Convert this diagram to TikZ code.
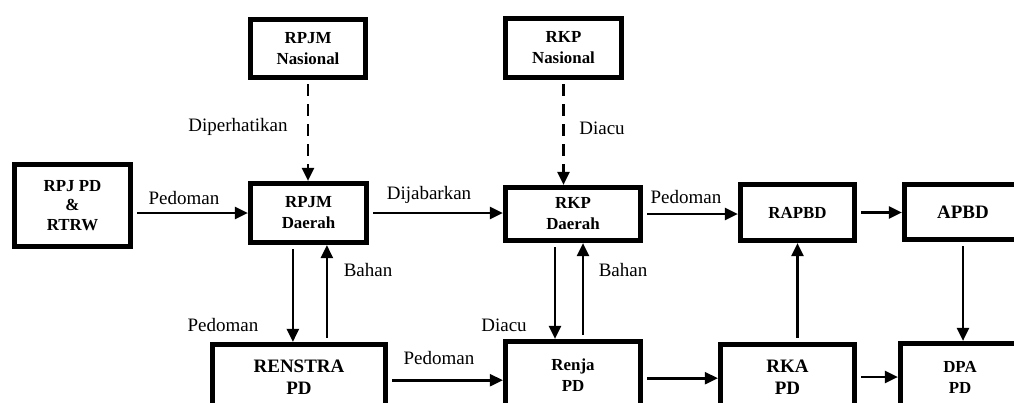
\documentclass[tikz,border=0pt]{standalone}
\usepackage{fontspec}
\setmainfont{Liberation Serif}
\usetikzlibrary{arrows.meta}
\tikzset{box/.style = {draw, line width=3.6pt, align=center, inner sep=0pt,
                       font=\bfseries\fontsize{12}{15}\selectfont},
         big/.style = {font=\bfseries\fontsize{13.5}{16}\selectfont},
         arr/.style = {line width=1.9pt, -{Triangle[length=0.33cm,width=0.3cm]}, shorten <=0.1cm},
         dsh/.style = {dash pattern=on 0.3cm off 0.2cm},
         lbl/.style = {font=\fontsize{13.5}{16}\selectfont, inner sep=0pt}}

\begin{document}
\begin{tikzpicture}[x=0.025cm, y=-0.025cm]
  \useasboundingbox (0,0) rectangle (1014,402);
  \clip (0,0) rectangle (1014,402);
  \node[box, minimum width=2.875cm, minimum height=1.45cm] (rpjmn) at (308,48.5) {RPJM\\Nasional};
  \node[box, minimum width=2.9cm, minimum height=1.475cm] (rkpn) at (563.5,48) {RKP\\Nasional};
  \node[box, minimum width=2.9cm, minimum height=2.05cm, font=\bfseries\fontsize{12}{14}\selectfont] (rpjpd) at (72.5,205.5) {RPJ PD\\\&\\RTRW};
  \node[box, minimum width=2.9cm, minimum height=1.475cm] (rpjmd) at (308.5,213) {RPJM\\Daerah};
  \node[box, minimum width=3.375cm, minimum height=1.325cm] (rkpd) at (573,214) {RKP\\Daerah};
  \node[box, minimum width=2.85cm, minimum height=1.4cm] (rapbd) at (797.5,212.5) {RAPBD};
  \node[box, big, minimum width=2.925cm, minimum height=1.375cm] (apbd) at (963,212) {APBD};
  \node[box, big, minimum width=4.325cm, minimum height=1.625cm] (renstra) at (299,377) {RENSTRA\\PD};
  \node[box, minimum width=3.375cm, minimum height=1.675cm] (renja) at (573,375) {Renja\\PD};
  \node[box, big, minimum width=3.35cm, minimum height=1.625cm] (rka) at (787.5,377) {RKA\\PD};
  \node[box, minimum width=2.975cm, minimum height=1.675cm] (dpa) at (960,377) {DPA\\PD};

  \draw[arr] (rpjpd.east |- rpjmd.west) -- (rpjmd.west);
  \draw[arr, dsh] (rpjmn.south) -- (rpjmn.south |- rpjmd.north);
  \draw[arr] (rpjmd.east) -- (rpjmd.east -| rkpd.west);
  \draw[arr, dsh] (rkpn.south) -- (rkpn.south |- rkpd.north);
  \draw[arr] (rkpd.east) -- (rkpd.east -| rapbd.west);
  \draw[arr] (rapbd.east) -- (rapbd.east -| apbd.west);
  \draw[arr] ([xshift=-0.39cm]rpjmd.south) -- ([xshift=-0.39cm]rpjmd.south |- renstra.north);
  \draw[arr] ([xshift=0.46cm]rpjmd.south |- renstra.north) -- ([xshift=0.46cm]rpjmd.south);
  \draw[arr] ([xshift=-0.45cm]rkpd.south) -- ([xshift=-0.45cm]rkpd.south |- renja.north);
  \draw[arr] ([xshift=0.25cm]rkpd.south |- renja.north) -- ([xshift=0.25cm]rkpd.south);
  \draw[arr] ([yshift=-0.08cm]renstra.east) -- ([yshift=-0.08cm]renstra.east -| renja.west);
  \draw[arr] ([yshift=-0.08cm]renja.east) -- ([yshift=-0.08cm]renja.east -| rka.west);
  \draw[arr] (rka.east) -- (rka.east -| dpa.west);
  \draw[arr] (rapbd.south |- rka.north) -- (rapbd.south);
  \draw[arr] (apbd.south) -- (apbd.south |- dpa.north);

  \node[lbl] (p1) at (184,198) {Pedoman};
  \node[lbl] (dip) at (238,127) {Diperhatikan};
  \node[lbl] (dij) at (429,195) {Dijabarkan};
  \node[lbl] (di1) at (602,128) {Diacu};
  \node[lbl] (p2) at (686,197) {Pedoman};
  \node[lbl] (b1) at (368,270) {Bahan};
  \node[lbl] (p3) at (223,325) {Pedoman};
  \node[lbl] (b2) at (623,270) {Bahan};
  \node[lbl] (di2) at (504,325) {Diacu};
  \node[lbl] (p4) at (439,358) {Pedoman};
\end{tikzpicture}
\end{document}
